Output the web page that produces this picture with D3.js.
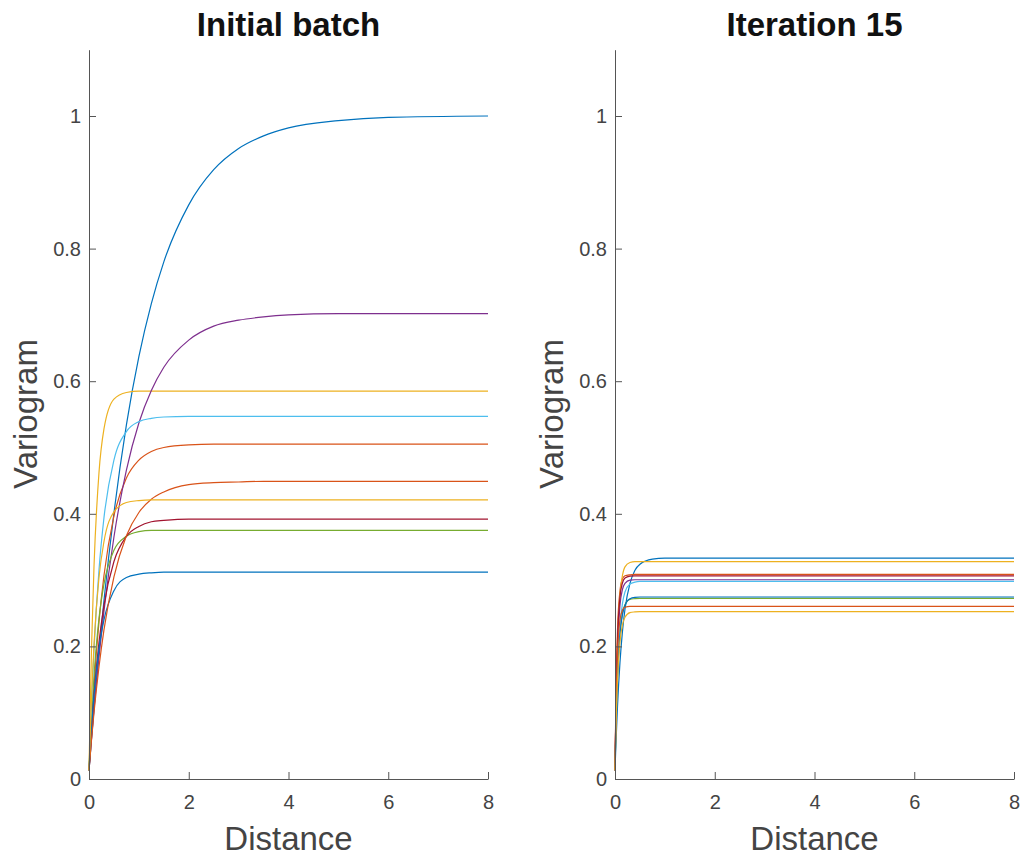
<!DOCTYPE html>
<html>
<head>
<meta charset="utf-8">
<script src="https://cdn.jsdelivr.net/npm/d3@7"></script>
<style>
  body { margin: 0; background: #fff; }
  text { font-family: "Liberation Sans", Arial, Helvetica, sans-serif; }
</style>
</head>
<body>
<div id="chart"></div>
<script>
const distInitial = [0, 0.05, 0.1, 0.2, 0.3, 0.5, 0.75, 1, 1.25, 1.5, 2, 2.5, 3, 3.5, 4, 5, 6, 8]
const distIter = [0, 0.02, 0.05, 0.1, 0.15, 0.2, 0.3, 0.4, 0.5, 0.75, 1, 1.5, 2, 8]

// Initial batch, one array per curve
const ini1 = [0.013, 0.061, 0.107, 0.192, 0.269, 0.401, 0.534, 0.637, 0.717, 0.780, 0.866, 0.919, 0.951, 0.970, 0.982, 0.993, 0.998, 1.000]
const ini2 = [0.013, 0.082, 0.142, 0.237, 0.307, 0.397, 0.454, 0.481, 0.494, 0.500, 0.504, 0.505, 0.505, 0.505, 0.505, 0.505, 0.505, 0.505]
const ini3 = [0.013, 0.196, 0.320, 0.462, 0.528, 0.573, 0.583, 0.585, 0.585, 0.585, 0.585, 0.585, 0.585, 0.585, 0.585, 0.585, 0.585, 0.585]
const ini4 = [0.013, 0.060, 0.105, 0.184, 0.253, 0.365, 0.466, 0.537, 0.586, 0.621, 0.662, 0.683, 0.692, 0.697, 0.700, 0.702, 0.702, 0.702]
const ini5 = [0.013, 0.093, 0.155, 0.242, 0.294, 0.345, 0.366, 0.373, 0.375, 0.375, 0.375, 0.375, 0.375, 0.375, 0.375, 0.375, 0.375, 0.375]
const ini6 = [0.013, 0.113, 0.195, 0.315, 0.394, 0.481, 0.524, 0.539, 0.544, 0.546, 0.547, 0.547, 0.547, 0.547, 0.547, 0.547, 0.547, 0.547]
const ini7 = [0.013, 0.075, 0.127, 0.206, 0.262, 0.328, 0.366, 0.381, 0.388, 0.390, 0.392, 0.392, 0.392, 0.392, 0.392, 0.392, 0.392, 0.392]
const ini8 = [0.013, 0.076, 0.126, 0.197, 0.240, 0.284, 0.304, 0.309, 0.311, 0.312, 0.312, 0.312, 0.312, 0.312, 0.312, 0.312, 0.312, 0.312]
const ini9 = [0.013, 0.059, 0.100, 0.169, 0.225, 0.305, 0.367, 0.402, 0.422, 0.433, 0.444, 0.447, 0.448, 0.449, 0.449, 0.449, 0.449, 0.449]
const ini10 = [0.013, 0.123, 0.203, 0.304, 0.358, 0.403, 0.417, 0.420, 0.421, 0.421, 0.421, 0.421, 0.421, 0.421, 0.421, 0.421, 0.421, 0.421]

// Iteration 15
const it1 = [0.013, 0.056, 0.109, 0.176, 0.223, 0.256, 0.295, 0.315, 0.324, 0.3315, 0.333, 0.333, 0.333, 0.333]
const it2 = [0.013, 0.129, 0.224, 0.284, 0.302, 0.3065, 0.308, 0.3085, 0.3085, 0.3085, 0.3085, 0.3085, 0.3085, 0.3085]
const it3 = [0.013, 0.109, 0.201, 0.277, 0.307, 0.320, 0.3266, 0.328, 0.328, 0.328, 0.328, 0.328, 0.328, 0.328]
const it4 = [0.013, 0.108, 0.195, 0.262, 0.286, 0.295, 0.300, 0.3005, 0.3005, 0.3005, 0.3005, 0.3005, 0.3005, 0.3005]
const it5 = [0.013, 0.087, 0.160, 0.223, 0.251, 0.263, 0.271, 0.272, 0.2725, 0.2725, 0.2725, 0.2725, 0.2725, 0.2725]
const it6 = [0.013, 0.084, 0.158, 0.230, 0.265, 0.282, 0.294, 0.297, 0.298, 0.298, 0.298, 0.298, 0.298, 0.298]
const it7 = [0.013, 0.118, 0.210, 0.275, 0.296, 0.3031, 0.306, 0.3065, 0.3065, 0.3065, 0.3065, 0.3065, 0.3065, 0.3065]
const it8 = [0.013, 0.082, 0.153, 0.218, 0.248, 0.262, 0.272, 0.274, 0.2745, 0.2745, 0.2745, 0.2745, 0.2745, 0.2745]
const it9 = [0.013, 0.110, 0.190, 0.240, 0.255, 0.259, 0.2605, 0.2605, 0.2605, 0.2605, 0.2605, 0.2605, 0.2605, 0.2605]
const it10 = [0.013, 0.081, 0.148, 0.207, 0.233, 0.244, 0.251, 0.252, 0.2525, 0.2525, 0.2525, 0.2525, 0.2525, 0.2525]

const xTicks = [0, 2, 4, 6, 8]
const yTicks = [0, 0.2, 0.4, 0.6, 0.8, 1]

// matlab default line colours
const colorOrder = ["#0072BD", "#D95319", "#EDB120", "#7E2F8E", "#77AC30", "#4DBEEE", "#A2142F"]

const width = 1023
const height = 856

const svg = d3.select("#chart")
    .append("svg")
    .attr("width", width)
    .attr("height", height)

svg.append("rect")
    .attr("width", width)
    .attr("height", height)
    .attr("fill", "#fff")

const yScale = d3.scaleLinear().domain([0, 1.1]).range([779, 49.7])

function drawPanel(left, title, dist, series) {
    const xScale = d3.scaleLinear().domain([0, 8]).range([left, left + 399])

    const line = d3.line()
        .x((d, i) => xScale(dist[i]))
        .y(d => yScale(d))
        .curve(d3.curveMonotoneX)

    svg.append("g")
        .selectAll("path")
        .data(series)
        .enter()
        .append("path")
        .attr("d", d => line(d))
        .attr("fill", "none")
        .attr("stroke", (d, i) => colorOrder[i % colorOrder.length])
        .attr("stroke-width", 1.2)

    // y axis, ticks pointing inward like matlab
    const yAxis = svg.append("g")
        .attr("transform", `translate(${left},0)`)
        .call(d3.axisLeft(yScale).tickValues(yTicks).tickFormat(d3.format("~g"))
            .tickSizeInner(-7).tickSizeOuter(0).tickPadding(8))

    const xAxis = svg.append("g")
        .attr("transform", `translate(0,779)`)
        .call(d3.axisBottom(xScale).tickValues(xTicks).tickFormat(d3.format("d"))
            .tickSizeInner(-7).tickSizeOuter(0).tickPadding(16))

    for (const ax of [xAxis, yAxis]) {
        ax.select(".domain").attr("stroke", "#555").attr("stroke-width", 1)
        ax.selectAll(".tick line").attr("stroke", "#555")
        ax.selectAll(".tick text")
            .attr("fill", "#444")
            .style("font-size", "20px")
            .style("font-family", '"Liberation Sans", Arial, sans-serif')
    }

    const mid = left + 399 / 2

    svg.append("text")
        .attr("x", mid)
        .attr("y", 36)
        .attr("text-anchor", "middle")
        .attr("font-size", 33)
        .attr("font-weight", "bold")
        .attr("fill", "#111")
        .text(title)

    svg.append("text")
        .attr("x", mid)
        .attr("y", 850)
        .attr("text-anchor", "middle")
        .attr("font-size", 33)
        .attr("fill", "#444")
        .text("Distance")

    svg.append("text")
        .attr("transform", `translate(${left - 52},414) rotate(-90)`)
        .attr("text-anchor", "middle")
        .attr("font-size", 33)
        .attr("fill", "#444")
        .text("Variogram")
}

drawPanel(89, "Initial batch", distInitial,
    [ini1, ini2, ini3, ini4, ini5, ini6, ini7, ini8, ini9, ini10])
drawPanel(615, "Iteration 15", distIter,
    [it1, it2, it3, it4, it5, it6, it7, it8, it9, it10])
</script>
</body>
</html>
